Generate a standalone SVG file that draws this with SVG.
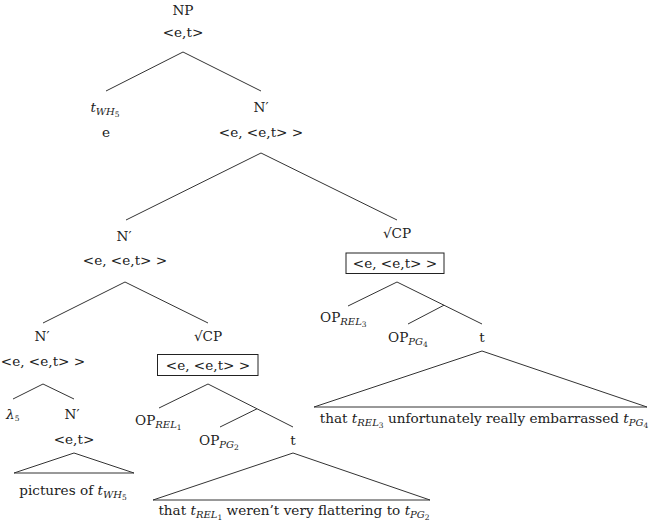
<svg xmlns="http://www.w3.org/2000/svg" width="651" height="529" viewBox="0 0 651 529">
<style>
text{font-family:"DejaVu Serif","Liberation Serif",serif;font-size:13.6px;fill:#222}
.m{text-anchor:middle}
.i{font-style:italic}
.s{font-size:10px;font-style:italic}
.ss{font-size:7.5px;font-style:normal}
.c line,.c polygon{stroke:#333;stroke-width:1;fill:none}
.box{fill:none;stroke:#222;stroke-width:1}
</style>
<rect width="651" height="529" fill="#fff"/>
<g class="c" id="connectors">
<line x1="183" y1="52" x2="106" y2="91"/>
<line x1="183" y1="52" x2="261" y2="91"/>
<line x1="261" y1="153" x2="126" y2="220"/>
<line x1="261" y1="153" x2="397" y2="220"/>
<line x1="125" y1="282" x2="43" y2="323"/>
<line x1="125" y1="282" x2="208" y2="323"/>
<line x1="397" y1="282" x2="348" y2="306"/>
<line x1="397" y1="282" x2="482" y2="324"/>
<line x1="444" y1="305.2" x2="408" y2="324"/>
<line x1="43" y1="384" x2="13" y2="399"/>
<line x1="43" y1="384" x2="74" y2="399"/>
<line x1="208" y1="384" x2="159" y2="408"/>
<line x1="208" y1="384" x2="293" y2="427"/>
<line x1="257" y1="408.8" x2="220" y2="427"/>
<polygon points="74,453 14,473 134,473"/>
<polygon points="293,453 153,500 430,500"/>
<polygon points="482,351 314,407 647,407"/>
</g>
<g id="np">
<text class="m" x="183" y="15">NP</text>
<text class="m" x="183" y="37">&lt;e,t&gt;</text>
</g>
<g id="twh">
<text class="m" x="105" y="112"><tspan class="i">t</tspan><tspan class="s" dy="3">WH</tspan><tspan class="ss" dy="1.5">5</tspan></text>
<text class="m" x="106" y="137">e</text>
</g>
<g id="nbar1">
<text class="m" x="261" y="112">N′</text>
<text class="m" x="261" y="137">&lt;e, &lt;e,t&gt; &gt;</text>
</g>
<g id="nbar2">
<text class="m" x="124" y="241">N′</text>
<text class="m" x="125" y="265">&lt;e, &lt;e,t&gt; &gt;</text>
</g>
<g id="cp-right">
<text class="m" x="397" y="238">√CP</text>
<rect class="box" x="346" y="253" width="98" height="20.5"/>
<text class="m" x="395" y="268">&lt;e, &lt;e,t&gt; &gt;</text>
</g>
<g id="nbar3">
<text class="m" x="42" y="341">N′</text>
<text class="m" x="43" y="366">&lt;e, &lt;e,t&gt; &gt;</text>
</g>
<g id="cp-left">
<text class="m" x="208" y="341">√CP</text>
<rect class="box" x="157.5" y="354.5" width="100.5" height="21"/>
<text class="m" x="208" y="369.5">&lt;e, &lt;e,t&gt; &gt;</text>
</g>
<g id="lambda">
<text x="6" y="419"><tspan class="i">λ</tspan><tspan class="ss" font-size="9" dy="2">5</tspan></text>
</g>
<g id="nbar4">
<text class="m" x="72" y="419">N′</text>
<text class="m" x="74" y="444">&lt;e,t&gt;</text>
</g>
<g id="pictures">
<text class="m" x="73" y="495">pictures of <tspan class="i">t</tspan><tspan class="s" dy="3">WH</tspan><tspan class="ss" dy="1.5">5</tspan></text>
</g>
<g id="op-rel1">
<text x="135" y="425">OP<tspan class="s" dy="3">REL</tspan><tspan class="ss" dy="1.5">1</tspan></text>
</g>
<g id="op-pg2">
<text x="199" y="445">OP<tspan class="s" dy="3">PG</tspan><tspan class="ss" dy="1.5">2</tspan></text>
</g>
<g id="t1">
<text class="m" x="293" y="445">t</text>
</g>
<g id="clause1">
<text class="m" x="294" y="515">that <tspan class="i">t</tspan><tspan class="s" dy="3">REL</tspan><tspan class="ss" dy="1.5">1</tspan><tspan dy="-4.5"> weren’t very flattering to </tspan><tspan class="i">t</tspan><tspan class="s" dy="3">PG</tspan><tspan class="ss" dy="1.5">2</tspan></text>
</g>
<g id="op-rel3">
<text x="320" y="322">OP<tspan class="s" dy="3">REL</tspan><tspan class="ss" dy="1.5">3</tspan></text>
</g>
<g id="op-pg4">
<text x="388" y="342">OP<tspan class="s" dy="3">PG</tspan><tspan class="ss" dy="1.5">4</tspan></text>
</g>
<g id="t2">
<text class="m" x="482" y="342">t</text>
</g>
<g id="clause2">
<text class="m" x="484" y="423">that <tspan class="i">t</tspan><tspan class="s" dy="3">REL</tspan><tspan class="ss" dy="1.5">3</tspan><tspan dy="-4.5"> unfortunately really embarrassed </tspan><tspan class="i">t</tspan><tspan class="s" dy="3">PG</tspan><tspan class="ss" dy="1.5">4</tspan></text>
</g>
</svg>
